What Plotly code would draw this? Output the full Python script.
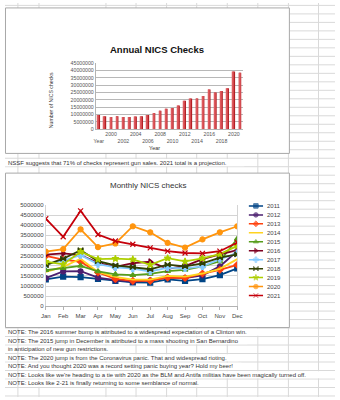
import plotly.graph_objects as go

W, H = 340, 400


def px_x(v):
    return v / W


def px_y(v):
    return 1 - v / H


# ---------------- data ----------------
years = ["Year"] + [str(y) for y in range(1999, 2022)]
annual_checks = [9600000, 8700000, 8300000, 8700000, 8300000, 8300000, 8500000, 8700000,
                 9600000, 10900000, 12500000, 13800000, 14300000, 16100000, 19400000,
                 20800000, 20800000, 22500000, 27000000, 25000000, 25900000, 27900000,
                 39300000, 38400000]

months = ["Jan", "Feb", "Mar", "Apr", "May", "Jun", "Jul", "Aug", "Sep", "Oct", "Nov", "Dec"]
series_names = ["2011", "2012", "2013", "2014", "2015", "2016", "2017", "2018", "2019", "2020", "2021"]
m2011 = [1330000, 1470000, 1440000, 1360000, 1250000, 1180000, 1170000, 1330000, 1260000, 1340000, 1540000, 1870000]
m2012 = [1390000, 1720000, 1730000, 1420000, 1290000, 1210000, 1280000, 1420000, 1400000, 1530000, 1970000, 2730000]
m2013 = [2490000, 2300000, 2200000, 1670000, 1350000, 1260000, 1260000, 1420000, 1400000, 1620000, 1800000, 2050000]
m2014 = [1700000, 1950000, 2350000, 1700000, 1450000, 1320000, 1320000, 1500000, 1470000, 1620000, 1850000, 2330000]
m2015 = [1780000, 1880000, 2000000, 1720000, 1580000, 1540000, 1600000, 1740000, 1800000, 1970000, 2220000, 3330000]
m2016 = [2550000, 2610000, 2530000, 2150000, 1950000, 2130000, 2200000, 1850000, 1990000, 2330000, 2560000, 2770000]
m2017 = [2070000, 2250000, 2520000, 2080000, 1920000, 1860000, 1720000, 1910000, 1870000, 1970000, 2330000, 2620000]
m2018 = [2030000, 2350000, 2770000, 2230000, 2020000, 1940000, 1830000, 2060000, 1970000, 2120000, 2400000, 2560000]
m2019 = [2200000, 2070000, 2690000, 2330000, 2350000, 2320000, 2050000, 2380000, 2220000, 2370000, 2580000, 2980000]
m2020 = [2700000, 2820000, 3800000, 2920000, 3100000, 3950000, 3650000, 3130000, 2900000, 3300000, 3650000, 3950000]
m2021 = [4320000, 3430000, 4710000, 3540000, 3220000, 3060000, 2880000, 2720000, 2630000, 2610000, 2720000, 3150000]
monthly = [m2011, m2012, m2013, m2014, m2015, m2016, m2017, m2018, m2019, m2020, m2021]

series_colors = ["#004586", "#4b1f6f", "#ff420e", "#ffd320", "#579d1c", "#7e0021",
                 "#83caff", "#314004", "#aecf00", "#ff950e", "#c5000b"]
series_symbols = ["square", "circle", "diamond", None, "triangle-up", "triangle-right",
                  "cross", "bowtie", "star", "circle", "x-thin-open"]

nssf_text = "NSSF suggests that 71% of checks represent gun sales. 2021 total is a projection."
notes = [
    "NOTE: The 2016 summer bump is attributed to a widespread expectation of a Clinton win.",
    "NOTE: The 2015 jump in December is attributed to a mass shooting in San Bernardino",
    "in anticipation of new gun restrictions.",
    "NOTE: The 2020 jump is from the Coronavirus panic. That and widespread rioting.",
    "NOTE: And you thought 2020 was a record setting panic buying year? Hold my beer!",
    "NOTE: Looks like we're heading to a tie with 2020 as the BLM and Antifa militias have been magically turned off.",
    "NOTE: Looks like 2-21 is finally returning to some semblance of normal.",
]

FONT = "Liberation Sans, Arial, sans-serif"
GRID = "#d9d9d9"

fig = go.Figure()

# annual bars (dark body + lighter left highlight, like the shaded spreadsheet bars)
fig.add_trace(go.Bar(x=years, y=annual_checks, xaxis="x", yaxis="y", width=0.4, offset=-0.2,
                     marker=dict(color="#b41e24", line=dict(width=0)), showlegend=False,
                     hoverinfo="x+y"))
fig.add_trace(go.Bar(x=years, y=annual_checks, xaxis="x", yaxis="y", width=0.16, offset=-0.2,
                     marker=dict(color="#de5a5e", line=dict(width=0)), showlegend=False,
                     hoverinfo="skip"))

# monthly lines
for name, vals, col, sym in zip(series_names, monthly, series_colors, series_symbols):
    fig.add_trace(go.Scatter(
        x=months, y=vals, xaxis="x2", yaxis="y2", name=name,
        mode="lines" if sym is None else "lines+markers",
        line=dict(color=col, width=1.8),
        marker=dict(symbol=sym or "circle", size=5, color=col,
                    line=dict(color=col, width=1.2)),
        showlegend=False))

# hand-drawn legend (compact spacing)
for i, (name, col, sym) in enumerate(zip(series_names, series_colors, series_symbols)):
    fig.add_trace(go.Scatter(
        x=[0, 0.5, 1], y=[i, i, i], xaxis="x3", yaxis="y3",
        mode="lines" if sym is None else "lines+markers",
        line=dict(color=col, width=1.5),
        marker=dict(symbol=sym or "circle", size=[0, 4.5, 0], color=col,
                    line=dict(color=col, width=1)),
        showlegend=False, hoverinfo="skip"))

# ---------------- spreadsheet background ----------------
shapes = []
row_h = 8.62
row0 = 330 - row_h * 37
k = -2
while True:
    yv = row0 + row_h * k
    if yv > H:
        break
    if yv >= 0:
        shapes.append(dict(type="line", xref="paper", yref="paper", x0=0, x1=1,
                           y0=px_y(yv), y1=px_y(yv), line=dict(color=GRID, width=1), layer="below"))
    k += 1
col_lines = [35, 104, 135, 166.5, 197.5, 229, 260.5, 292, 323]
for xv in col_lines:
    shapes.append(dict(type="line", xref="paper", yref="paper", x0=px_x(xv), x1=px_x(xv),
                       y0=0, y1=1, line=dict(color=GRID, width=1), layer="below"))

# masks where overflowing text hides the column lines
char_w = 3.02
text_rows = [(162.0, nssf_text)] + [(330 + row_h * (j + 0.5), t) for j, t in enumerate(notes)]
for yc, t in text_rows:
    x_end = 2 + len(t) * char_w
    shapes.append(dict(type="rect", xref="paper", yref="paper", x0=0, x1=px_x(x_end),
                       y0=px_y(yc + row_h / 2 - 0.7), y1=px_y(yc - row_h / 2 + 0.7),
                       fillcolor="white", line=dict(width=0), layer="below"))
shapes.append(dict(type="line", xref="paper", yref="paper", x0=px_x(13.3), x1=px_x(13.3),
                   y0=0, y1=1, line=dict(color=GRID, width=1), layer="below"))

# chart frames
for (x0, y0, x1, y1) in [(0.5, 5, 293, 152.7), (0.5, 172.7, 293, 329.5)]:
    shapes.append(dict(type="rect", xref="paper", yref="paper", x0=px_x(x0), x1=px_x(x1),
                       y0=px_y(y1), y1=px_y(y0), fillcolor="white",
                       line=dict(color="#a8a8a8", width=1), layer="below"))

# ---------------- annotations ----------------
ann = []
ann.append(dict(text="<b>Annual NICS Checks</b>", x=px_x(157), y=px_y(47), xref="paper", yref="paper",
                showarrow=False, font=dict(size=9.5, color="#111"), xanchor="center", yanchor="middle"))
ann.append(dict(text="Number of NICS checks", x=px_x(47), y=px_y(99), xref="paper", yref="paper",
                showarrow=False, textangle=-90, font=dict(size=5.2, color="#333"),
                xanchor="center", yanchor="middle"))
ann.append(dict(text="Year", x=px_x(154), y=px_y(147), xref="paper", yref="paper",
                showarrow=False, font=dict(size=5.5, color="#333"), xanchor="center", yanchor="middle"))
ann.append(dict(text="Monthly NICS checks", x=px_x(147), y=px_y(185), xref="paper", yref="paper",
                showarrow=False, font=dict(size=8, color="#333"), xanchor="center", yanchor="middle"))
for yc, t in text_rows:
    ann.append(dict(text=t, x=px_x(1.5), y=px_y(yc), xref="paper", yref="paper",
                    showarrow=False, font=dict(size=6, color="#333"), xanchor="left", yanchor="middle"))
for i, name in enumerate(series_names):
    ann.append(dict(text=name, x=1, y=i, xref="x3", yref="y3", xshift=2, showarrow=False,
                    font=dict(size=6, color="#444"), xanchor="left", yanchor="middle"))

# staggered category labels for the annual chart
shown = years[::2]
ticktext = [("<br>" if j % 2 == 0 else "") + lab for j, lab in enumerate(shown)]

fig.update_layout(
    width=W, height=H, margin=dict(l=0, r=0, t=0, b=0),
    paper_bgcolor="white", plot_bgcolor="rgba(0,0,0,0)",
    font=dict(family=FONT, color="#333"),
    showlegend=False, shapes=shapes, annotations=ann, barmode="overlay",
    xaxis=dict(domain=[px_x(93.5), px_x(245.3)], anchor="y", type="category",
               tickvals=shown, ticktext=ticktext, tickangle=0, tickfont=dict(size=5.2, color="#555"),
               showgrid=False, showline=True, linecolor="#b3b3b3", ticks=""),
    yaxis=dict(domain=[px_y(128), px_y(61)], anchor="x", range=[0, 45000000], dtick=5000000,
               tickformat="d", gridcolor="#b8b8b8", zeroline=False, showline=True,
               linecolor="#b3b3b3", tickfont=dict(size=5.2, color="#555"), ticks=""),
    xaxis2=dict(domain=[px_x(42), px_x(239.3)], anchor="y2", type="category", range=[0, 11],
                ticks="outside", ticklen=3, tickcolor="#b3b3b3", showline=True, linecolor="#b3b3b3",
                showgrid=False, tickangle=0, tickfont=dict(size=6, color="#444")),
    yaxis2=dict(domain=[px_y(308), px_y(205)], anchor="x2", range=[0, 5000000], dtick=500000,
                tickformat="d", gridcolor="#d4d4d4", zeroline=False, showline=True, mirror=True,
                linecolor="#d4d4d4", ticks="", tickfont=dict(size=6, color="#444")),
    xaxis3=dict(domain=[px_x(251), px_x(266)], anchor="y3", range=[0, 1], visible=False),
    yaxis3=dict(domain=[px_y(301.55), px_y(201.45)], anchor="x3", range=[10.5, -0.5], visible=False),
)

fig.write_html("out.html")
